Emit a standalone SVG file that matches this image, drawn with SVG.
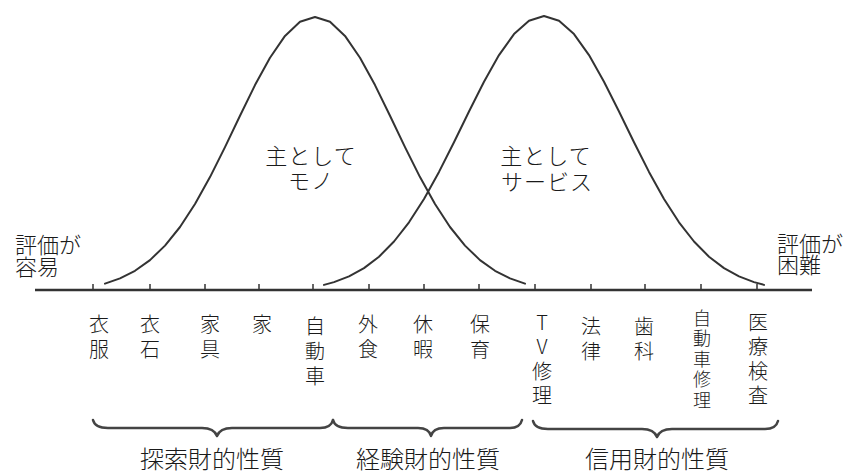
<svg xmlns="http://www.w3.org/2000/svg" width="848" height="475" viewBox="0 0 848 475">
<style>
.t{font-family:"Noto Sans CJK JP","Noto Sans CJK SC",sans-serif;fill:#1a1a1a;font-weight:300}
.v{writing-mode:vertical-rl;text-orientation:upright;font-size:20px;letter-spacing:5px}
.v2{writing-mode:vertical-rl;text-orientation:upright;font-size:18px;letter-spacing:2.5px}
.v4{writing-mode:vertical-rl;text-orientation:upright;font-size:20px;letter-spacing:4.5px}
.lbl{font-size:22px}
.mid{font-size:22px;text-anchor:middle;letter-spacing:1px}
.cat{font-size:24px;text-anchor:middle}
.curve{fill:none;stroke:#333;stroke-width:2;stroke-linejoin:round;stroke-linecap:round}
.axis{fill:none;stroke:#333;stroke-width:2.5}
.tick{stroke:#333;stroke-width:1.5}
.brace{fill:none;stroke:#444;stroke-width:2.5;stroke-linecap:round;stroke-linejoin:round}
.lat{font-family:"Liberation Serif",serif}
</style>
<rect width="848" height="475" fill="#fff"/>
<g id="axis">
<line class="axis" x1="35" y1="290" x2="812" y2="290"/>
<g class="tick">
<line x1="93" y1="284" x2="93" y2="290"/><line x1="150" y1="284" x2="150" y2="290"/><line x1="205" y1="284" x2="205" y2="290"/><line x1="259" y1="284" x2="259" y2="290"/><line x1="313" y1="284" x2="313" y2="290"/><line x1="369" y1="284" x2="369" y2="290"/><line x1="424" y1="284" x2="424" y2="290"/><line x1="479" y1="284" x2="479" y2="290"/><line x1="535" y1="284" x2="535" y2="290"/><line x1="591" y1="284" x2="591" y2="290"/><line x1="645" y1="284" x2="645" y2="290"/><line x1="701" y1="284" x2="701" y2="290"/><line x1="757" y1="284" x2="757" y2="290"/>
</g>
</g>
<g id="connectors">
<polyline id="curve-mono" class="curve" points="105,283.6 120,278.4 135,270.8 150,260.1 165,245.6 180,227 195,204 210,177.1 225,147.1 240,115.8 255,85.1 270,57.7 285,35.9 300,21.8 315,17 330,21.8 345,35.9 360,57.7 375,85.1 390,115.8 405,147.1 420,177.1 435,204 450,227 465,245.6 480,260.1 495,270.8 510,278.4 525,283.6"/>
<polyline id="curve-service" class="curve" points="324,284.9 334,282.1 349,276.4 364,268.1 379,256.7 394,241.5 409,222.3 424,199 439,171.9 454,142.3 469,111.5 484,81.7 499,55.1 514,34.1 529,20.7 544,16 559,20.7 574,34.1 589,55.1 604,81.7 619,111.5 634,142.3 649,171.9 664,199 679,222.3 694,241.5 709,256.7 724,268.1 739,276.4 754,282.1 764,284.9"/>
<path id="brace-search" class="brace" d="M93,420 Q95,428 108,428 L202,428 Q214,428 217,436 Q220,428 232,428 L320,428 Q331,428 333,420"/>
<path id="brace-experience" class="brace" d="M333,420 Q335,428 348,428 L418,428 Q429,428 431,436 Q433,428 444,428 L510,428 Q520,428 522,420"/>
<path id="brace-credence" class="brace" d="M533,421 Q535,429 548,429 L642,429 Q654,429 657,437 Q660,429 672,429 L765,429 Q776,429 778,421"/>
</g>
<g id="label-easy"><text class="t lbl" x="15" y="253">評価が<tspan x="15" y="275">容易</tspan></text></g>
<g id="label-hard"><text class="t lbl" x="777" y="252">評価が<tspan x="777" y="273">困難</tspan></text></g>
<g id="label-mono"><text class="t mid" x="311" y="164">主として<tspan x="311" y="189">モノ</tspan></text></g>
<g id="label-service"><text class="t mid" x="546" y="164">主として<tspan x="547" y="190">サービス</tspan></text></g>
<g id="item-1"><text class="t v" x="99" y="314">衣服</text></g>
<g id="item-2"><text class="t v" x="150" y="314">衣石</text></g>
<g id="item-3"><text class="t v" x="210" y="314">家具</text></g>
<g id="item-4"><text class="t v" x="262" y="314">家</text></g>
<g id="item-5"><text class="t v" x="315" y="316">自動車</text></g>
<g id="item-6"><text class="t v" x="368" y="314">外食</text></g>
<g id="item-7"><text class="t v" x="423" y="314">休暇</text></g>
<g id="item-8"><text class="t v" x="480" y="314">保育</text></g>
<g id="item-9"><text class="t v4" x="542" y="312">TV修理</text></g>
<g id="item-10"><text class="t v" x="591" y="316">法律</text></g>
<g id="item-11"><text class="t v" x="644" y="316">歯科</text></g>
<g id="item-12"><text class="t v2" x="702" y="309">自動車修理</text></g>
<g id="item-13"><text class="t v4" x="758" y="312">医療検査</text></g>
<g id="cat-search"><text class="t cat" x="212" y="468">探索財的性質</text></g>
<g id="cat-experience"><text class="t cat" x="428" y="468">経験財的性質</text></g>
<g id="cat-credence"><text class="t cat" x="657" y="468">信用財的性質</text></g>
</svg>
